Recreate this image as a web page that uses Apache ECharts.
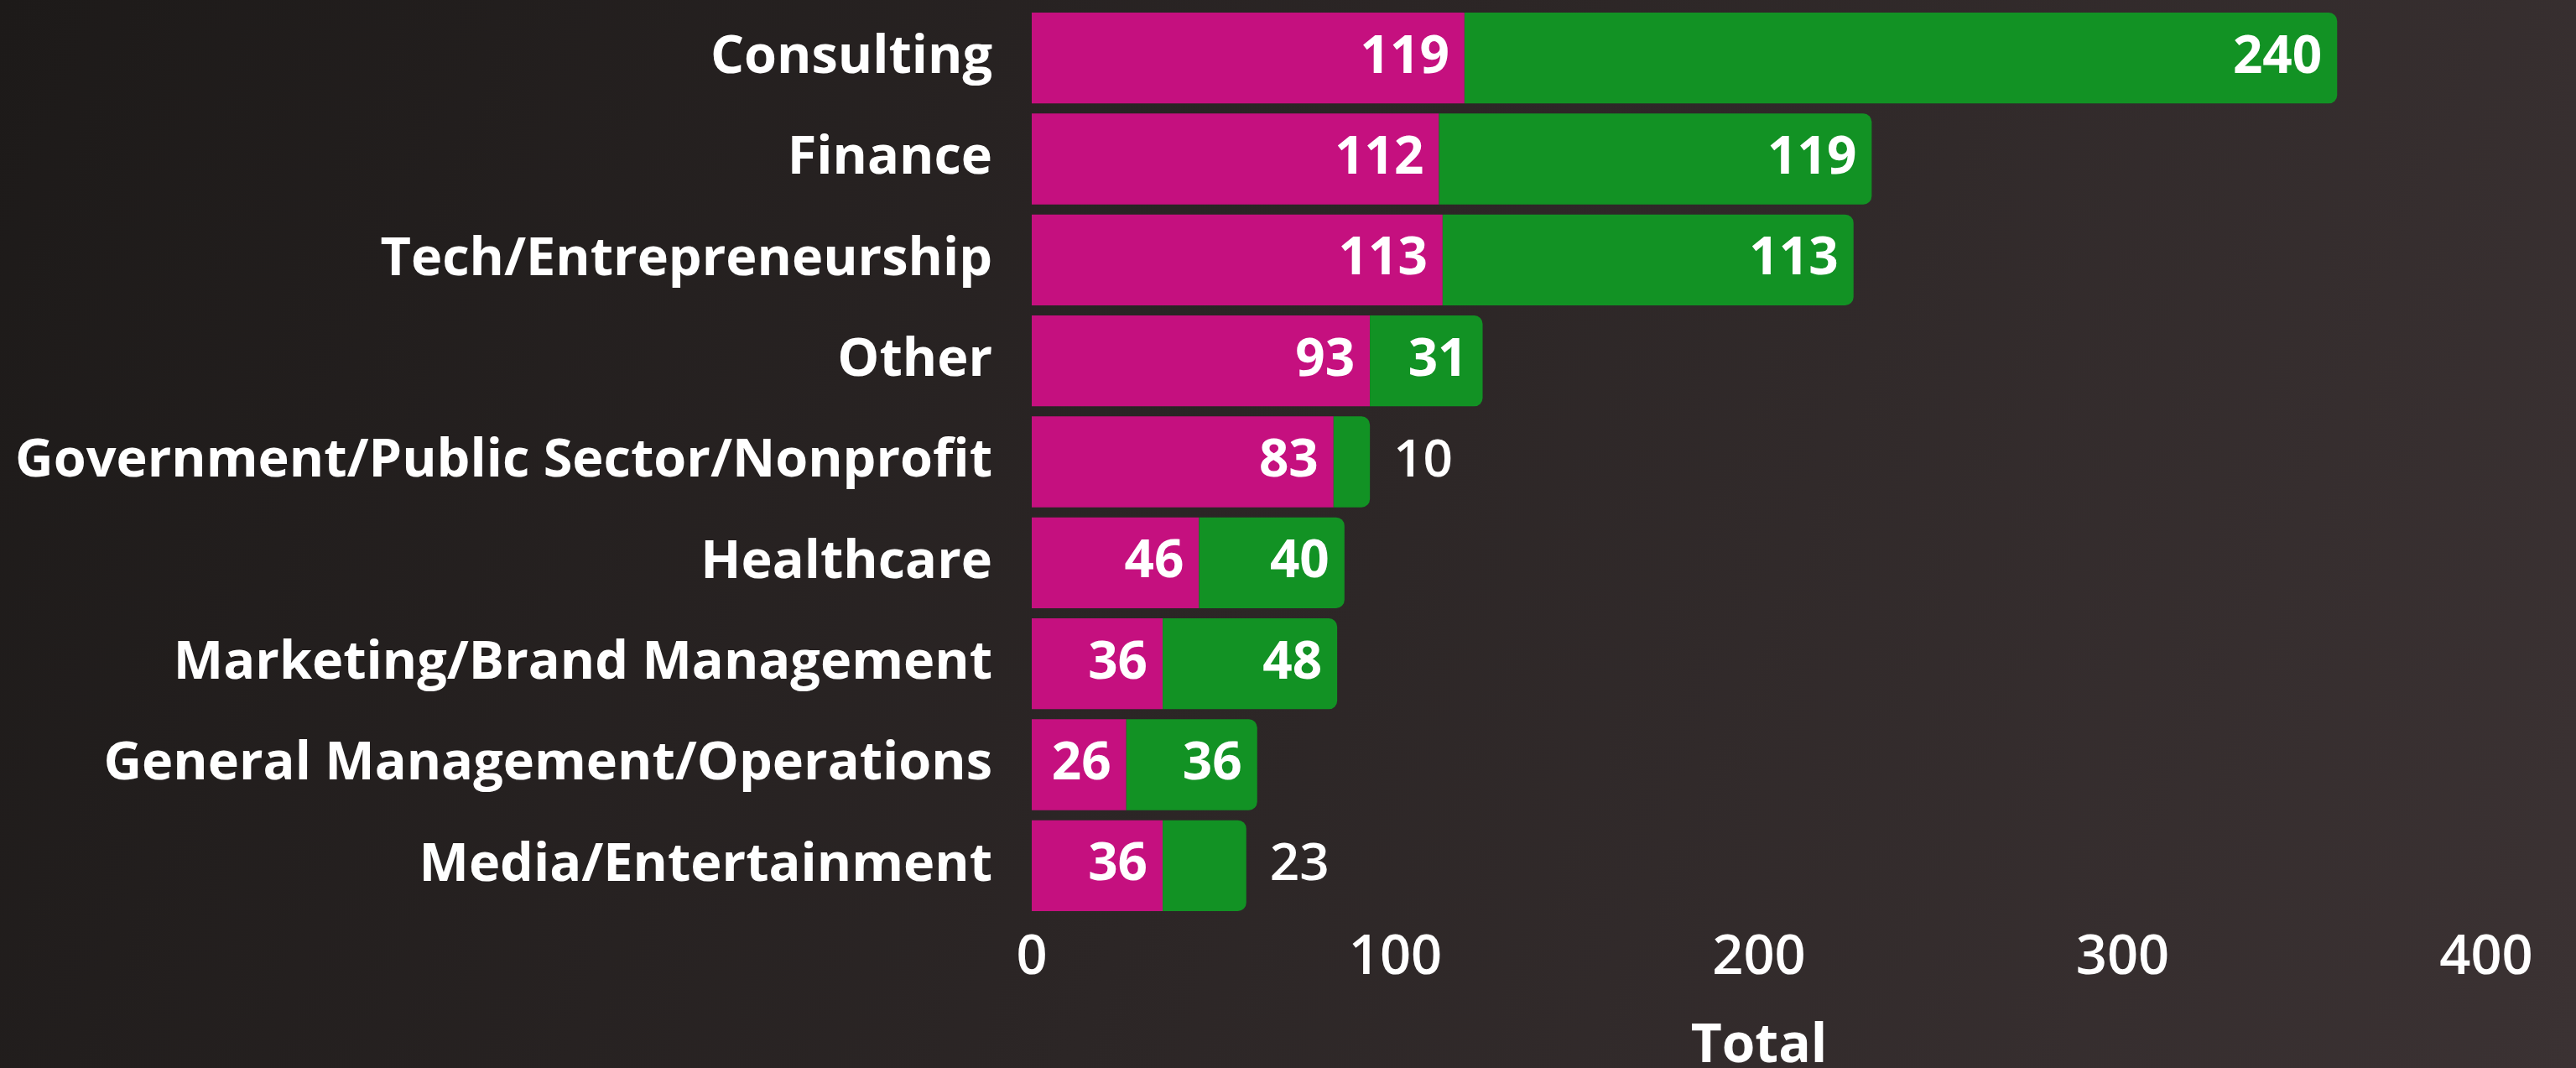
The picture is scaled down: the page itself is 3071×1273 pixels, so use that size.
<!DOCTYPE html>
<html>
<head>
<meta charset="utf-8">
<script src="https://cdn.jsdelivr.net/npm/echarts@6/dist/echarts.min.js"></script>
<style>
  html, body { margin: 0; padding: 0; }
  #chart { width: 3071px; height: 1273px; }
</style>
</head>
<body>
<div id="chart"></div>
<script>
const categories = [
    'Consulting',
    'Finance',
    'Tech/Entrepreneurship',
    'Other',
    'Government/Public Sector/Nonprofit',
    'Healthcare',
    'Marketing/Brand Management',
    'General Management/Operations',
    'Media/Entertainment'
];
const firstValues = [119, 112, 113, 93, 83, 46, 36, 26, 36];
const secondValues = [240, 119, 113, 31, 10, 40, 48, 36, 23];
const xTicks = [0, 100, 200, 300, 400];

const chart = echarts.init(document.getElementById('chart'));

const labelFont = 'Open Sans';
const insideLabel = {
    show: true,
    position: 'insideRight',
    distance: 18,
    color: '#ffffff',
    fontSize: 62,
    fontWeight: 'bold',
    fontFamily: labelFont
};

const option = {
    backgroundColor: new echarts.graphic.LinearGradient(0, 0, 1, 1, [
        { offset: 0, color: '#1d1a19' },
        { offset: 1, color: '#3b3233' }
    ]),
    grid: {
        left: 1230,
        right: 107,
        top: 9,
        bottom: 181,
        containLabel: false,
        outerBoundsMode: 'none'
    },
    xAxis: {
        type: 'value',
        min: xTicks[0],
        max: xTicks[xTicks.length - 1],
        interval: 100,
        name: 'Total',
        nameLocation: 'middle',
        nameGap: 124,
        nameTextStyle: {
            color: '#ffffff',
            fontSize: 64,
            fontWeight: 'bold',
            fontFamily: labelFont
        },
        axisLine: { show: false },
        axisTick: { show: false },
        splitLine: { show: false },
        axisLabel: {
            color: '#ffffff',
            fontSize: 65,
            fontWeight: 600,
            fontFamily: labelFont,
            margin: 18
        }
    },
    yAxis: {
        type: 'category',
        data: categories,
        inverse: true,
        axisLine: { show: false },
        axisTick: { show: false },
        axisLabel: {
            color: '#ffffff',
            fontSize: 63,
            fontWeight: 'bold',
            fontFamily: labelFont,
            margin: 47
        }
    },
    series: [
        {
            name: 'First',
            type: 'bar',
            stack: 'total',
            barWidth: '90%',
            data: firstValues,
            itemStyle: { color: '#c5107f' },
            label: insideLabel
        },
        {
            name: 'Second',
            type: 'bar',
            stack: 'total',
            barWidth: '90%',
            data: secondValues.map(v => ({
                value: v,
                label: v < 25 ? {
                    position: 'right',
                    distance: 28,
                    fontSize: 62,
                    fontWeight: 600
                } : {}
            })),
            itemStyle: { color: '#129224', borderRadius: [0, 10, 10, 0] },
            label: insideLabel
        }
    ]
};

chart.setOption(option);
</script>
</body>
</html>
